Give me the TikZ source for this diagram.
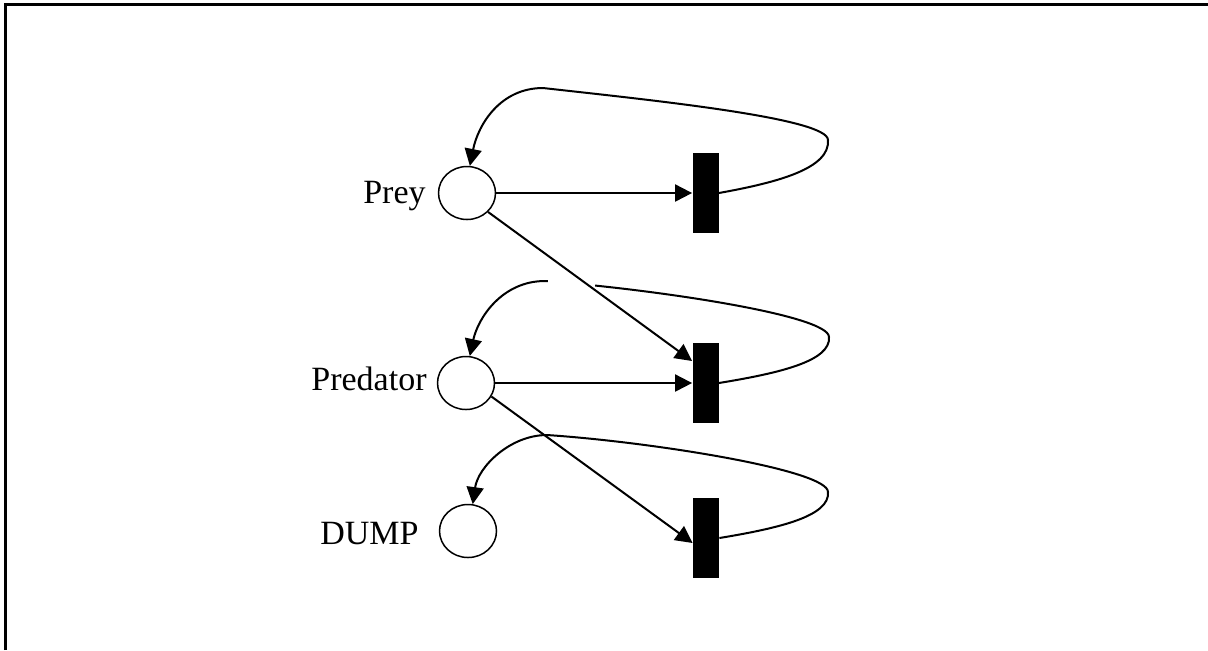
\documentclass[tikz,border=0pt]{standalone}
\usepackage{fontspec}
\setmainfont{Liberation Serif}
\usetikzlibrary{arrows.meta,shapes.geometric,calc}
\begin{document}
\begin{tikzpicture}[x=0.5pt,y=-0.5pt,
  place/.style={ellipse,draw,line width=0.75pt,minimum width=28.5pt,minimum height=26.5pt,inner sep=0pt},
  trans/.style={rectangle,fill=black,minimum width=13pt,minimum height=40pt,inner sep=0pt},
  lbl/.style={font=\fontsize{17}{20}\selectfont,inner sep=0pt},
  arc/.style={line width=1pt,-{Triangle[length=8.5pt,width=8.5pt]}},
  backarc/.style={line width=1pt,-{Triangle[length=8.5pt,width=8.5pt]}}]
\useasboundingbox (0,0) rectangle (1208,650);
\draw[line width=1.5pt] (5.5,650) -- (5.5,4.5) -- (1208,4.5);

% places
\node[place] (prey) at (467,193) {};
\node[place] (pred) at (466,383) {};
\node[place] (dump) at (468,531) {};
% transitions
\node[trans] (t1) at (705.5,193) {};
\node[trans] (t2) at (705.5,383) {};
\node[trans] (t3) at (706,538) {};
% labels
\node[lbl,anchor=base east] (preylbl) at (426,203) {Prey};
\node[lbl,anchor=base east] (predlbl) at (427,390) {Predator};
\node[lbl,anchor=base east] (dumplbl) at (419,544) {DUMP};

% return arcs
\draw[backarc] (t1.east) .. controls (780,182) and (830,168) .. (828,140)
  .. controls (828,118) and (650,100) .. (543,88)
  .. controls (500,88) and (478,125) .. (prey.84);
\draw[backarc] (t2.east) .. controls (780,373) and (831,361) .. (829,337)
  .. controls (829,315) and (652,289) .. (545,281)
  .. controls (502,281) and (478,318) .. (pred.82);
\draw[backarc] (t3.east) .. controls (780,528) and (830,516) .. (828,492)
  .. controls (828,470) and (652,442) .. (547,435)
  .. controls (510,435) and (478,467) .. (dump.80);
\fill[white] (548,272) rectangle (595,292);

% forward arcs
\draw[arc] (prey.east) -- (t1.west);
\draw[arc] (pred.east) -- (t2.west);
\draw[arc] (prey.-42) -- ($(t2.west)+(0,-22)$);
\draw[arc] (pred.-28) -- ($(t3.west)+(0,5)$);
\end{tikzpicture}
\end{document}
